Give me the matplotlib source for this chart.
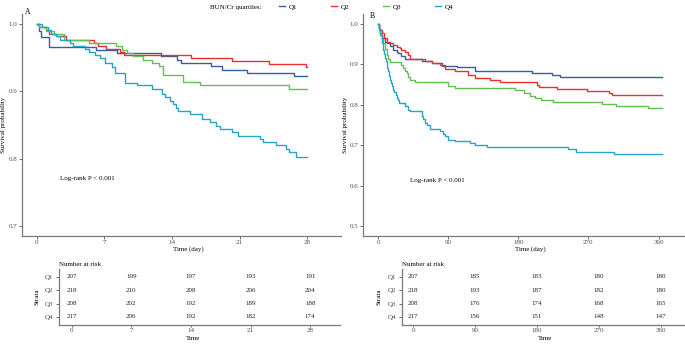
import matplotlib.pyplot as plt

plt.rcParams['font.family'] = ['Liberation Serif', 'DejaVu Serif']
plt.rcParams['font.size'] = 5.0

groups = ['Q1', 'Q2', 'Q3', 'Q4']
colors = ['#35609f', '#e9302f', '#62bf52', '#27a5c9']

# Panel A: 28-day survival, step points (day, survival)
a_q1_t = [0, 0.3, 0.5, 1.3, 6.2, 8.3, 12.9, 14.5, 14.9, 18.0, 19.2, 21.8, 26.6]
a_q1_s = [1.0, 0.990, 0.981, 0.966, 0.962, 0.957, 0.952, 0.947, 0.942, 0.937, 0.932, 0.928, 0.923]
a_q2_t = [0, 0.3, 1.0, 1.3, 2.0, 3.1, 5.9, 6.4, 7.2, 8.6, 9.0, 16.0, 20.2, 24.1, 27.9]
a_q2_s = [1.0, 0.995, 0.991, 0.986, 0.982, 0.977, 0.972, 0.968, 0.963, 0.959, 0.954, 0.950, 0.945, 0.941, 0.936]
a_q3_t = [0, 0.3, 1.0, 1.8, 2.8, 5.4, 8.2, 8.8, 9.4, 10.0, 11.0, 11.9, 12.7, 13.1, 15.2, 16.9, 26.1]
a_q3_s = [1.0, 0.995, 0.990, 0.986, 0.977, 0.972, 0.967, 0.962, 0.957, 0.952, 0.947, 0.942, 0.938, 0.924, 0.914, 0.909, 0.904]
a_q4_t = [0, 0.6, 1.2, 1.5, 2.0, 2.4, 3.5, 3.8, 5.0, 5.4, 6.0, 6.6, 7.1, 7.8, 8.1, 9.2, 10.4, 11.9,
          13.0, 13.3, 13.8, 14.1, 14.4, 14.6, 15.9, 17.1, 17.9, 18.6, 19.0, 20.2, 20.8, 23.1, 23.4,
          24.8, 25.8, 26.1, 26.8]
a_q4_s = [1.0, 0.995, 0.991, 0.986, 0.982, 0.977, 0.972, 0.968, 0.963, 0.959, 0.954, 0.950, 0.942, 0.936,
          0.927, 0.913, 0.909, 0.904, 0.896, 0.891, 0.886, 0.881, 0.876, 0.871, 0.867, 0.859, 0.854,
          0.849, 0.844, 0.839, 0.834, 0.829, 0.825, 0.820, 0.815, 0.810, 0.802]

# Panel B: 365-day survival
b_q1_t = [0, 1, 2.6, 5, 9, 12, 15.4, 19.7, 24, 26, 30, 34.7, 56, 69, 82, 101, 125, 197, 223, 233]
b_q1_s = [1.0, 0.985, 0.973, 0.966, 0.956, 0.952, 0.945, 0.936, 0.932, 0.928, 0.920, 0.913, 0.908,
          0.903, 0.897, 0.893, 0.884, 0.879, 0.875, 0.869]
b_q2_t = [0, 1, 2, 4.7, 8, 11, 15.4, 19.7, 24, 28, 30, 34.7, 39, 41, 60, 69, 80, 86, 99, 116, 124,
          144, 157, 204, 206, 230, 268, 296, 300]
b_q2_s = [1.0, 0.991, 0.986, 0.979, 0.965, 0.956, 0.952, 0.948, 0.944, 0.940, 0.936, 0.932, 0.924,
          0.913, 0.908, 0.903, 0.899, 0.888, 0.883, 0.874, 0.866, 0.862, 0.856, 0.850, 0.844, 0.839,
          0.833, 0.830, 0.825]
b_q3_t = [0, 1, 2.6, 4.5, 6.8, 9, 11, 13, 15.4, 30, 32.5, 35, 37, 39, 41, 47, 90, 99, 176, 187, 195,
          201, 209, 224, 287, 306, 347]
b_q3_s = [1.0, 0.986, 0.974, 0.962, 0.952, 0.938, 0.924, 0.914, 0.907, 0.899, 0.891, 0.885, 0.880,
          0.870, 0.862, 0.856, 0.847, 0.842, 0.836, 0.829, 0.821, 0.817, 0.811, 0.807, 0.803, 0.798, 0.792]
b_q4_t = [0, 1, 2, 3, 4, 4.7, 5.5, 6.8, 8, 9, 10, 11, 12, 13.3, 14.5, 15.4, 17, 18.5, 19.7, 21, 22.5,
          24, 26, 27.4, 34.7, 39, 41, 56, 58, 60.4, 62.5, 67, 80, 84, 86, 90, 99, 118, 125, 139.5,
          244, 254, 303]
b_q4_s = [1.0, 0.991, 0.982, 0.977, 0.972, 0.965, 0.954, 0.936, 0.926, 0.917, 0.908, 0.899, 0.890,
          0.883, 0.872, 0.862, 0.855, 0.846, 0.837, 0.832, 0.825, 0.818, 0.811, 0.805, 0.798, 0.788,
          0.784, 0.772, 0.765, 0.756, 0.749, 0.739, 0.734, 0.727, 0.722, 0.714, 0.710, 0.705, 0.700,
          0.695, 0.690, 0.683, 0.677]

# number at risk
risk_a_times = [0, 7, 14, 21, 28]
risk_a_q1 = [207, 199, 197, 193, 191]
risk_a_q2 = [218, 210, 208, 206, 204]
risk_a_q3 = [208, 202, 192, 189, 188]
risk_a_q4 = [217, 206, 192, 182, 174]
risk_b_times = [0, 90, 180, 270, 360]
risk_b_q1 = [207, 185, 183, 180, 180]
risk_b_q2 = [218, 193, 187, 182, 180]
risk_b_q3 = [208, 176, 174, 168, 165]
risk_b_q4 = [217, 156, 151, 148, 147]

W, H = 685, 344
fig = plt.figure(figsize=(W / 100, H / 100), dpi=100)


def box(x0, y0, x1, y1):
    # pixel box -> figure fraction
    return [x0 / W, 1 - y1 / H, (x1 - x0) / W, (y1 - y0) / H]


def style(ax):
    for s in ['top', 'right']:
        ax.spines[s].set_visible(False)
    for s in ['left', 'bottom']:
        ax.spines[s].set_color('#7a7a7a')
        ax.spines[s].set_linewidth(0.9)
    ax.tick_params(length=2, width=0.6, color='#555555', pad=1.2, labelcolor='#4d4d4d', labelsize=5.0)


def km_panel(ax, curves, end, xlim, ylim, xticks, yticks, ylab_x, xlab_x, lx, ly):
    handles = []
    for (t, s), c, g in zip(curves, colors, groups):
        h, = ax.step(t + [end], s + [s[-1]], where='post', color=c, lw=1.0, label=g)
        handles.append(h)
    ax.set_xlim(*xlim)
    ax.set_ylim(*ylim)
    ax.set_xticks(xticks)
    ax.set_yticks(yticks)
    ax.set_yticklabels([f'{v:.1f}' for v in yticks])
    ax.set_ylabel('Survival probability')
    ax.yaxis.set_label_coords(ylab_x, 0.5)
    ax.set_xlabel('Time (day)')
    ax.xaxis.set_label_coords(xlab_x, -0.045)
    ax.text(lx, ly, 'Log-rank P < 0.001', va='center')
    style(ax)
    return handles


def risk_table(ax, times, rows, xlim, xlab_x):
    for i, vals in enumerate(rows):
        for t, v in zip(times, vals):
            ax.text(t, i, str(v), ha='center', va='center', color='#222222')
    ax.set_xlim(*xlim)
    ax.set_ylim(3.6, -0.6)
    ax.set_yticks(range(4))
    ax.set_yticklabels(groups)
    for lab, c in zip(ax.get_yticklabels(), colors):
        lab.set_color(c)
    ax.set_xticks(times)
    ax.set_ylabel('Strata')
    ax.yaxis.set_label_coords(-0.071, 0.5)
    ax.set_xlabel('Time')
    ax.xaxis.set_label_coords(xlab_x, -0.2)
    ax.set_title('Number at risk', loc='left', pad=2.5, fontsize=5.0)
    style(ax)
    ax.tick_params(axis='y', pad=2.2)
    ax.tick_params(axis='x', pad=0.6, length=1.6)


axA = fig.add_axes(box(22, 14, 341, 236))
hA = km_panel(axA, [(a_q1_t, a_q1_s), (a_q2_t, a_q2_s), (a_q3_t, a_q3_s), (a_q4_t, a_q4_s)],
              28, (-1.5, 31.5), (0.685, 1.015), [0, 7, 14, 21, 28], [0.7, 0.8, 0.9, 1.0],
              -0.05, 0.52, 2.4, 0.7706)
fig.text(28 / W, 1 - 12 / H, 'A', fontsize=5.5, ha='center', va='center')

axB = fig.add_axes(box(363, 14, 685, 236))
km_panel(axB, [(b_q1_t, b_q1_s), (b_q2_t, b_q2_s), (b_q3_t, b_q3_s), (b_q4_t, b_q4_s)],
         365, (-19.3, 394), (0.475, 1.025), [0, 90, 180, 270, 360], [0.5, 0.6, 0.7, 0.8, 0.9, 1.0],
         -0.047, 0.519, 41, 0.6133)
fig.text(372 / W, 1 - 16 / H, 'B', fontsize=5.5, ha='center', va='center')

tA = fig.add_axes(box(59, 269, 340, 325))
risk_table(tA, risk_a_times, [risk_a_q1, risk_a_q2, risk_a_q3, risk_a_q4], (-1.5, 31.5), 0.477)

tB = fig.add_axes(box(402, 269, 685, 325))
risk_table(tB, risk_b_times, [risk_b_q1, risk_b_q2, risk_b_q3, risk_b_q4], (-16, 395), 0.505)

# legend on top
fig.text(210 / W, 1 - 7 / H, 'BUN/Cr quartiles:', va='center', ha='left')
fig.legend(handles=hA, labels=groups, loc='center left', bbox_to_anchor=(279 / W, 1 - 7 / H),
           ncol=4, frameon=False, handlelength=0.85, handletextpad=0.6, columnspacing=4.8,
           borderpad=0, borderaxespad=0, fontsize=5.0)

fig.savefig('out.png', dpi=100)
